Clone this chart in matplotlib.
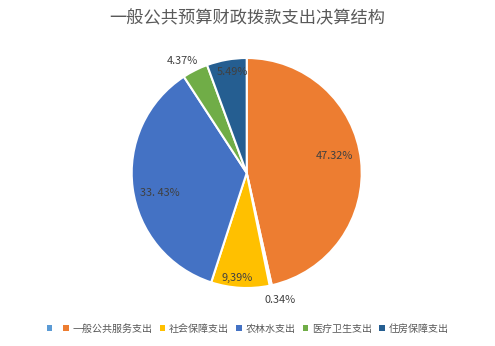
import matplotlib
matplotlib.use("Agg")
import matplotlib.pyplot as plt
from matplotlib.patches import Patch
import numpy as np

plt.rcParams['font.family'] = ['Noto Sans CJK SC', 'DejaVu Sans']

title = "一般公共预算财政拨款支出决算结构"
categories = ["", "一般公共服务支出", "", "社会保障支出", "农林水支出", "医疗卫生支出", "住房保障支出"]
# wedge sizes (labels are the printed texts)
values = [0.0, 46.5, 0.3, 8.2, 35.8, 3.6, 5.6]
labels = ["", "47.32%", "0.34%", "9,39%", "33. 43%", "4.37%", "5.49%"]
colors = ["#5B9BD5", "#ED7D31", "#A5A5A5", "#FFC000", "#4472C4", "#70AD47", "#255E91"]
in_legend = [True, True, False, True, True, True, True]
# label placement style: (radius fraction, angle offset in degrees)
label_style = [None, (0.78, 4.6), (1.14, 2.9), (0.92, -2.2), (0.775, 5.4), (1.12, 3.1), (0.89, -2.2)]

W, H = 495, 346
fig = plt.figure(figsize=(W / 100, H / 100), dpi=100)
cx, cy, r = 246.7, 173, 115
ax = fig.add_axes([(cx - r) / W, (H - cy - r) / H, 2 * r / W, 2 * r / H])

wedges, _ = ax.pie(values, colors=colors, startangle=90, counterclock=False,
                   radius=1.0, wedgeprops=dict(edgecolor="white", linewidth=1.5))
ax.set_xlim(-1, 1)
ax.set_ylim(-1, 1)
ax.set_aspect("equal")
ax.axis("off")

for w, lab, st in zip(wedges, labels, label_style):
    if not lab or st is None:
        continue
    rad, off = st
    ang = np.deg2rad((w.theta1 + w.theta2) / 2 + off)
    ax.text(rad * np.cos(ang), rad * np.sin(ang), lab, ha="center", va="center",
            fontsize=7.9, color="#404040")

fig.text(0.5, 1 - 18 / H, title, ha="center", va="center", fontsize=12.4, color="#595959")

handles = [w for w, s in zip(wedges, in_legend) if s]
leg_labels = [c for c, s in zip(categories, in_legend) if s]
hp = [Patch(facecolor=h.get_facecolor(), edgecolor="none") for h in handles]
fig.legend(hp, leg_labels, loc="center", bbox_to_anchor=(0.5, 1 - 329 / H), ncol=6,
           frameon=False, fontsize=7.2, handlelength=0.55, handleheight=0.55,
           handletextpad=0.4, columnspacing=0.7, labelcolor="#595959")

fig.savefig("out.png", dpi=100)
